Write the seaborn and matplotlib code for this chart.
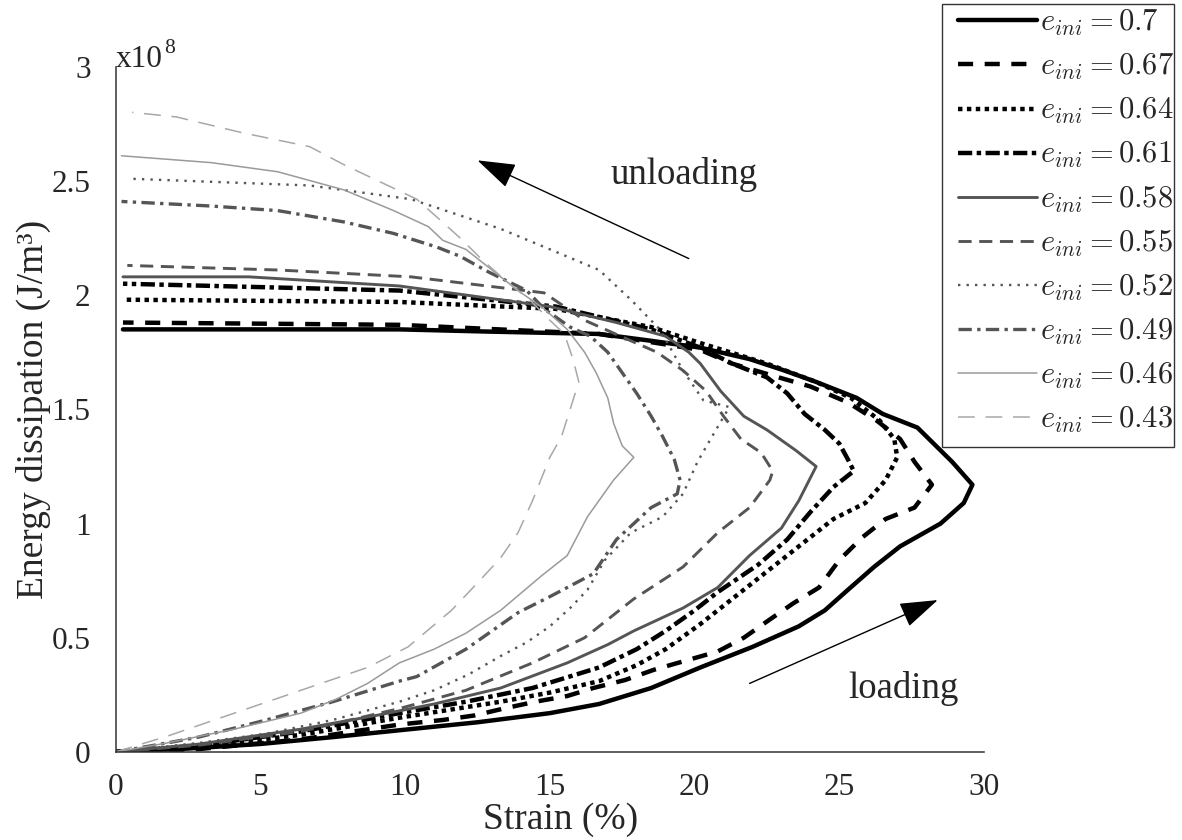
import matplotlib
matplotlib.use("Agg")
import matplotlib.pyplot as plt
from matplotlib.patches import Rectangle
import seaborn as sns

sns.set_style("white")
plt.rcParams["font.family"] = ["Liberation Serif", "DejaVu Serif"]
plt.rcParams["mathtext.fontset"] = "cm"

# Strain (%) and dissipated energy (x1e8 J/m^3): loading branch to the peak, then unloading
strain_070 = [0, 2.5, 5.0, 7.5, 9.8, 12.5, 15.0, 16.7, 18.5, 20.2, 22.0, 23.6, 24.5, 25.3, 26.2, 27.1, 28.5, 29.3, 29.6,
              28.9, 28.1, 27.7, 26.5, 25.6, 24.2, 23.1, 21.9, 20.2, 18.5, 16.7, 13.0, 9.8, 5.0, 0.25]
energy_070 = [0, 0.015, 0.035, 0.065, 0.095, 0.13, 0.17, 0.21, 0.28, 0.37, 0.46, 0.55, 0.62, 0.71, 0.81, 0.90, 1.00, 1.09, 1.17,
              1.27, 1.37, 1.42, 1.48, 1.55, 1.62, 1.67, 1.72, 1.77, 1.80, 1.83, 1.84, 1.85, 1.85, 1.85]

strain_067 = [0, 2.9, 6.4, 9.8, 11.3, 12.4, 13.4, 14.5, 15.6, 16.5, 17.6, 18.6, 19.7, 20.8, 21.7, 22.6,
              23.4, 24.3, 25.0, 25.8, 26.6, 27.6, 28.2,
              27.6, 27.1, 26.3, 25.3, 24.0, 22.9, 21.3, 20.2, 16.7, 9.8, 0.25]
energy_067 = [0, 0.013, 0.055, 0.12, 0.14, 0.16, 0.19, 0.22, 0.245, 0.28, 0.315, 0.36, 0.40, 0.44, 0.50, 0.58,
              0.65, 0.72, 0.84, 0.94, 1.02, 1.07, 1.17,
              1.27, 1.37, 1.45, 1.53, 1.60, 1.64, 1.70, 1.76, 1.83, 1.87, 1.88]

strain_064 = [0, 2.9, 6.4, 9.8, 13.3, 15.0, 16.7, 18.0, 19.0, 20.2, 21.3, 22.5, 23.6, 24.8, 25.9, 26.6, 27.0,
              26.9, 26.4, 25.4, 24.2, 22.5, 20.2, 18.5, 15.2, 9.8, 0.25]
energy_064 = [0, 0.022, 0.075, 0.15, 0.22, 0.26, 0.31, 0.38, 0.45, 0.56, 0.67, 0.79, 0.90, 1.02, 1.09, 1.19, 1.29,
              1.37, 1.45, 1.55, 1.62, 1.70, 1.79, 1.86, 1.94, 1.97, 1.98]

strain_061 = [0, 2.9, 6.4, 9.8, 12.1, 14.4, 16.7, 18.0, 19.0, 20.0, 20.8, 22.2, 23.2, 24.0, 24.8, 25.5,
              25.3, 25.0, 24.5, 23.8, 23.2, 22.5, 21.3, 20.2, 18.5, 15.2, 9.8, 0.25]
energy_061 = [0, 0.028, 0.09, 0.17, 0.22, 0.28, 0.37, 0.45, 0.53, 0.62, 0.70, 0.82, 0.93, 1.05, 1.16, 1.23,
              1.28, 1.35, 1.41, 1.48, 1.57, 1.64, 1.70, 1.77, 1.85, 1.95, 2.02, 2.05]

strain_058 = [0, 2.9, 6.4, 9.0, 11.0, 13.3, 15.6, 17.0, 17.9, 19.6, 20.8, 21.9, 23.0, 23.6, 24.2,
              23.5, 22.5, 21.7, 20.9, 20.2, 19.8, 19.0, 17.3, 15.0, 9.8, 4.6, 0.25]
energy_058 = [0, 0.035, 0.10, 0.16, 0.21, 0.28, 0.39, 0.47, 0.53, 0.63, 0.72, 0.86, 0.98, 1.10, 1.25,
              1.32, 1.41, 1.47, 1.58, 1.70, 1.75, 1.82, 1.88, 1.95, 2.04, 2.08, 2.08]

strain_055 = [0, 2.9, 6.4, 9.8, 12.1, 14.4, 16.2, 17.9, 19.6, 20.8, 21.9, 22.6, 22.7,
              22.3, 21.6, 21.0, 20.4, 19.6, 18.7, 17.8, 16.2, 14.8, 10.2, 5.6, 0.4]
energy_055 = [0, 0.03, 0.09, 0.19, 0.27, 0.39, 0.50, 0.67, 0.81, 0.96, 1.07, 1.19, 1.23,
              1.31, 1.37, 1.47, 1.58, 1.67, 1.75, 1.80, 1.89, 2.01, 2.08, 2.11, 2.13]

strain_052 = [0, 2.9, 5.2, 7.5, 9.8, 11.0, 12.2, 13.3, 14.2, 15.0, 15.7, 16.3, 16.9, 17.8, 18.9, 19.6, 20.1, 20.6, 21.2,
              20.3, 19.6, 18.8, 17.8, 16.7, 15.2, 13.3, 10.2, 6.7, 0.4]
energy_052 = [0, 0.04, 0.08, 0.14, 0.22, 0.27, 0.34, 0.42, 0.48, 0.55, 0.63, 0.71, 0.84, 0.96, 1.03, 1.13, 1.27, 1.38, 1.51,
              1.54, 1.67, 1.85, 1.98, 2.11, 2.19, 2.29, 2.42, 2.48, 2.51]

strain_049 = [0, 1.8, 2.9, 5.2, 7.5, 9.8, 10.4, 12.1, 13.9, 15.0, 16.5, 17.3, 18.5, 19.4, 19.5,
              19.3, 18.9, 18.5, 18.0, 17.5, 17.0, 16.4, 15.7, 14.8, 14.2, 12.9, 11.9, 11.1,
              9.6, 7.9, 5.6, 3.3, 0.2]
energy_049 = [0, 0.04, 0.066, 0.14, 0.22, 0.31, 0.33, 0.45, 0.61, 0.68, 0.78, 0.93, 1.07, 1.13, 1.19,
              1.28, 1.38, 1.47, 1.57, 1.66, 1.75, 1.82, 1.86, 1.94, 2.02, 2.10, 2.17, 2.21,
              2.27, 2.32, 2.37, 2.39, 2.41]

strain_046 = [0, 1.8, 4.1, 6.4, 7.6, 8.7, 9.8, 11.0, 12.1, 13.3, 14.7, 15.6, 16.3, 17.2, 17.9,
              17.5, 17.2, 17.0, 16.6, 16.2, 15.6, 14.8, 13.9, 13.0, 12.1, 11.3, 10.8, 9.6,
              7.9, 5.6, 3.3, 0.2]
energy_046 = [0, 0.04, 0.10, 0.17, 0.23, 0.30, 0.39, 0.45, 0.52, 0.62, 0.77, 0.86, 1.03, 1.19, 1.29,
              1.34, 1.44, 1.55, 1.66, 1.75, 1.85, 1.94, 2.02, 2.11, 2.20, 2.24, 2.30, 2.37,
              2.46, 2.54, 2.58, 2.61]

strain_043 = [0, 1.8, 4.1, 6.4, 8.7, 10.1, 11.6, 12.5, 13.3, 13.9, 14.4, 15.0, 15.4, 15.7, 16.0,
              15.8, 15.5, 15.0, 14.3, 13.6, 12.7, 11.9, 11.2, 10.4, 9.4, 7.9, 6.7, 4.4, 2.1, 0.57]
energy_043 = [0, 0.07, 0.17, 0.27, 0.37, 0.46, 0.62, 0.74, 0.85, 0.96, 1.10, 1.29, 1.38, 1.50, 1.62,
              1.72, 1.83, 1.89, 1.98, 2.05, 2.15, 2.25, 2.33, 2.42, 2.48, 2.57, 2.65, 2.71, 2.78, 2.80]

void_ratios = ["0.7", "0.67", "0.64", "0.61", "0.58", "0.55", "0.52", "0.49", "0.46", "0.43"]
x_ticks = [0, 5, 10, 15, 20, 25, 30]
y_ticks = [0, 0.5, 1, 1.5, 2, 2.5, 3]

series = [
    (strain_070, energy_070, "black", 3.2, "-"),
    (strain_067, energy_067, "black", 3.2, (0, (3.4, 2.6))),
    (strain_064, energy_064, "black", 3.2, (0, (1, 1))),
    (strain_061, energy_061, "black", 3.2, (0, (3.2, 1.0, 1.0, 1.0))),
    (strain_058, energy_058, "#555555", 2.1, "-"),
    (strain_055, energy_055, "#555555", 2.1, (0, (4.5, 2.6))),
    (strain_052, energy_052, "#555555", 1.7, (0, (1, 2.6))),
    (strain_049, energy_049, "#555555", 2.4, (0, (4.0, 1.6, 1.0, 1.6))),
    (strain_046, energy_046, "#9a9a9a", 1.1, "-"),
    (strain_043, energy_043, "#a8a8a8", 1.1, (0, (11, 7))),
]

fig = plt.figure(figsize=(11.82, 8.40), dpi=100)
ax = fig.add_axes([0.0979, 0.1048, 0.7346, 0.8158])

for (xs, ys, col, lw, ls), e in zip(series, void_ratios):
    sns.lineplot(x=xs, y=ys, sort=False, estimator=None, ax=ax, color=col,
                 linewidth=lw, label=rf"$e_{{ini}} = {e}$", legend=False)
    line = ax.lines[-1]
    line.set_linestyle(ls)
    line.set_dash_capstyle("butt")

ax.set_xlim(0, 30)
ax.set_ylim(0, 3)
ax.set_xticks(x_ticks)
ax.set_yticks(y_ticks)
ax.set_xticklabels([f"{t:g}" for t in x_ticks])
ax.set_yticklabels([f"{t:g}" for t in y_ticks])

for side in ["top", "right"]:
    ax.spines[side].set_visible(False)
for side in ["left", "bottom"]:
    ax.spines[side].set_color("#333333")
    ax.spines[side].set_linewidth(1.1)
ax.tick_params(axis="both", direction="in", length=6.5, width=1.0, color="#333333",
               labelsize=22.5, labelcolor="#262626")
ax.tick_params(axis="y", pad=18)
ax.tick_params(axis="x", pad=15)

ax.set_xlabel("Strain (%)", fontsize=27, color="#262626")
ax.set_ylabel("Energy dissipation (J/m³)", fontsize=27, color="#262626")
ax.xaxis.set_label_coords(0.512, -0.074)
ax.yaxis.set_label_coords(-0.075, 0.5)

# Exponent marker above the y axis
base = ax.text(0.0, 1.0, "x10", transform=ax.transAxes, fontsize=22.5,
               color="#262626", ha="left", va="baseline")
ax.annotate("8", xy=(1.0, 1.0), xycoords=base, fontsize=15.5, color="#262626",
            ha="left", va="top", xytext=(1, 4), textcoords="offset points")

# Direction arrows and labels
arrow_kw = dict(arrowstyle="-|>,head_length=1.2,head_width=0.4", color="black",
                lw=1.0, mutation_scale=20, shrinkA=0, shrinkB=0)
ax.annotate("", xy=(12.5, 2.59), xytext=(19.8, 2.16), arrowprops=arrow_kw)
ax.annotate("", xy=(28.4, 0.665), xytext=(21.9, 0.30), arrowprops=arrow_kw)
ax.text(19.64, 2.53, "unloading", fontsize=26.5, color="#262626", ha="center", va="center")
ax.text(27.22, 0.28, "loading", fontsize=26.5, color="#262626", ha="center", va="center")

# Legend box outside the plot area, with the entries laid over it
fig.patches.append(Rectangle((942 / 1182, 1 - 447 / 840), 232 / 1182, 443 / 840,
                             transform=fig.transFigure, facecolor="white",
                             edgecolor="#333333", linewidth=1.0, zorder=1))
handles, labels = ax.get_legend_handles_labels()
fig.legend(handles, labels, loc="upper left", bbox_to_anchor=(958 / 1182, 1 - 8 / 840),
           borderaxespad=0, borderpad=0, fontsize=22, frameon=False,
           handlelength=2.6, handletextpad=0.1, labelspacing=0.455)

fig.savefig("out.png", dpi=100)
